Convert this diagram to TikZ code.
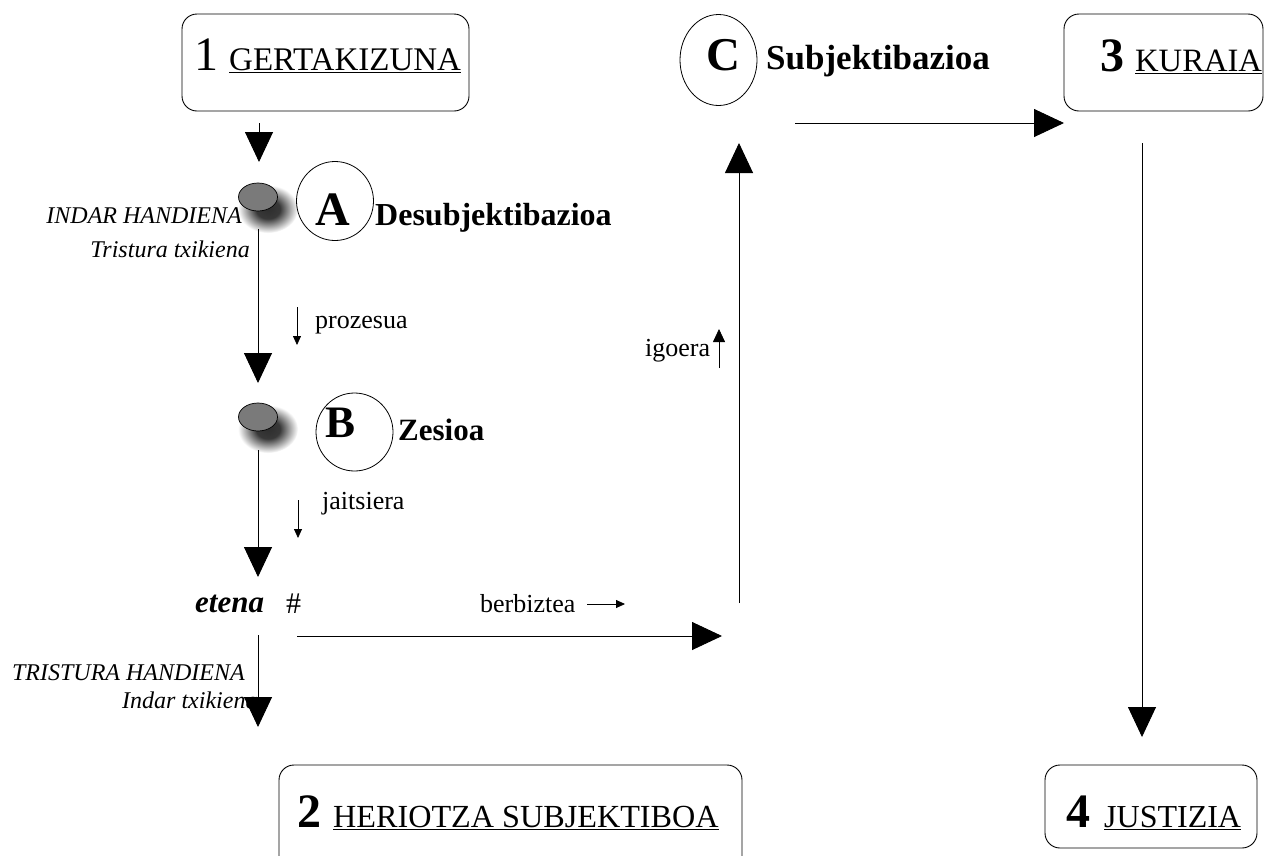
\documentclass[tikz,border=0pt]{standalone}
\usepackage{fontspec}
\setmainfont{Liberation Serif}
\usetikzlibrary{arrows.meta,shapes.geometric}
\pgfdeclareradialshading{softshadow}{\pgfpoint{0bp}{0bp}}{color(0bp)=(black!82); color(10bp)=(black!78); color(25bp)=(white); color(50bp)=(white)}
\tikzset{
  bigarrow/.style={-{Triangle[length=30pt,width=28pt]}, line width=0.9pt},
  smallarrow/.style={-{Triangle[length=9pt,width=8pt]}, line width=0.8pt},
  midarrow/.style={-{Triangle[length=13pt,width=12pt]}, line width=0.8pt},
  boxnode/.style={draw, rounded corners=15pt, line width=0.9pt, inner sep=0pt},
  letterring/.style={draw, ellipse, line width=0.8pt, inner sep=0pt},
  graydot/.style={draw, ellipse, fill=black!52, line width=0.7pt, inner sep=0pt, minimum width=39pt, minimum height=28pt},
  lbl/.style={inner sep=0pt, anchor=base west},
  lble/.style={inner sep=0pt, anchor=base east},
  tital/.style={font=\fontsize{24}{26}\selectfont\itshape},
  tsmall/.style={font=\fontsize{26}{28}\selectfont},
  tname/.style={font=\fontsize{32}{34}\selectfont\bfseries},
}
\newcommand{\boxtitle}[4]{{\fontsize{48}{50}\selectfont#1}\hspace{#2}{\fontsize{#4}{36}\selectfont\underline{#3}}}
\begin{document}
\begin{tikzpicture}[x=1pt,y=-1pt]
\useasboundingbox (0,0) rectangle (1264,855);
\clip (0,0) rectangle (1264,855);
\fill[white] (0,0) rectangle (1264,855);

% shadows of the gray dots
\shade[shading=softshadow] (268,209) ellipse [x radius=30, y radius=24];
\shade[shading=softshadow] (268,429) ellipse [x radius=30, y radius=24];

% boxes
\node[boxnode, minimum width=287pt, minimum height=97pt] (b1) at (325.5,62.5) {};
\node[boxnode, minimum width=199pt, minimum height=97pt] (b3) at (1163.5,62.5) {};
\node[boxnode, minimum width=463pt, minimum height=112pt] (b2) at (510.5,821) {};
\node[boxnode, minimum width=212pt, minimum height=83pt] (b4) at (1151,806.5) {};

\node[lbl] (t1) at (194,70) {\boxtitle{1}{11pt}{GERTAKIZUNA}{33}};
\node[lbl] (t3) at (1100,71) {\boxtitle{\bfseries 3}{11pt}{KURAIA}{32.6}};
\node[lbl] (t2) at (297,827) {\boxtitle{\bfseries 2}{12pt}{HERIOTZA SUBJEKTIBOA}{32.2}};
\node[lbl] (t4) at (1066,827) {\boxtitle{\bfseries 4}{14pt}{JUSTIZIA}{32}};

% gray dots
\node[graydot] (dA) at (258,197) {};
\node[graydot] (dB) at (258,417) {};

% letter rings
\node[letterring, minimum width=77pt, minimum height=79pt] (cA) at (335,201) {};
\node[letterring, minimum width=77pt, minimum height=78pt] (cB) at (354.5,432) {};
\node[letterring, minimum width=77pt, minimum height=91pt] (cC) at (718.5,60) {};
\node[inner sep=0pt, anchor=base] (lA) at (332.5,225) {\fontsize{48}{50}\selectfont\bfseries A};
\node[inner sep=0pt, anchor=base] (lB) at (341,437) {\fontsize{45}{46}\selectfont\bfseries B};
\node[inner sep=0pt, anchor=base] (lC) at (723.5,70) {\fontsize{47}{48}\selectfont\bfseries C};

\node[lbl, tname] (nA) at (375,225) {Desubjektibazioa};
\node[lbl, font=\fontsize{31}{34}\selectfont\bfseries] (nB) at (398,440) {Zesioa};
\node[lbl, font=\fontsize{35}{38}\selectfont\bfseries] (nC) at (766,69) {Subjektibazioa};

% italic labels
\node[lble, tital] (ih) at (242,223) {INDAR HANDIENA};
\node[lble, tital] (tt) at (250,257) {Tristura txikiena};
\node[lble, tital] (th) at (245,680) {TRISTURA HANDIENA};
\node[lbl, tital] (it) at (122,708) {Indar txikiena};

% break
\node[lbl, font=\fontsize{31}{34}\selectfont\bfseries\itshape] (et) at (195,612) {etena};
\node[lbl, font=\fontsize{30}{32}\selectfont] (hs) at (286,613) {\#};

% small labels
\node[lbl, tsmall] (pr) at (315,328) {prozesua};
\node[lbl, tsmall] (ja) at (322,509) {jaitsiera};
\node[lbl, tsmall] (ig) at (645,356) {igoera};
\node[lbl, tsmall] (be) at (480,612) {berbiztea};

% connector end points
\coordinate (p1s) at (259,123);  \coordinate (p1e) at (259,162);
\coordinate (p2s) at (258,229);  \coordinate (p2e) at (258,383);
\coordinate (p3s) at (258,450);  \coordinate (p3e) at (258,577);
\coordinate (p4s) at (258,635);  \coordinate (p4e) at (258,727);
\coordinate (p5s) at (297,636);  \coordinate (p5e) at (722,636);
\coordinate (p6s) at (739,603);  \coordinate (p6e) at (739,143);
\coordinate (p7s) at (795,123);  \coordinate (p7e) at (1064,123);
\coordinate (p8s) at (1142,143); \coordinate (p8e) at (1142,737);

\draw[bigarrow] (p1s) -- (p1e);
\draw[bigarrow] (p2s) -- (p2e);
\draw[bigarrow] (p3s) -- (p3e);
\draw[bigarrow] (p4s) -- (p4e);
\draw[bigarrow] (p5s) -- (p5e);
\draw[bigarrow] (p6s) -- (p6e);
\draw[bigarrow] (p7s) -- (p7e);
\draw[bigarrow] (p8s) -- (p8e);

% small arrows
\coordinate (s1s) at (297,307); \coordinate (s1e) at (297,345);
\coordinate (s2s) at (298,500); \coordinate (s2e) at (298,538);
\coordinate (s3s) at (719,368); \coordinate (s3e) at (719,329);
\coordinate (s4s) at (587,604); \coordinate (s4e) at (625,604);
\draw[smallarrow] (s1s) -- (s1e);
\draw[smallarrow] (s2s) -- (s2e);
\draw[midarrow] (s3s) -- (s3e);
\draw[smallarrow] (s4s) -- (s4e);
\end{tikzpicture}
\end{document}
